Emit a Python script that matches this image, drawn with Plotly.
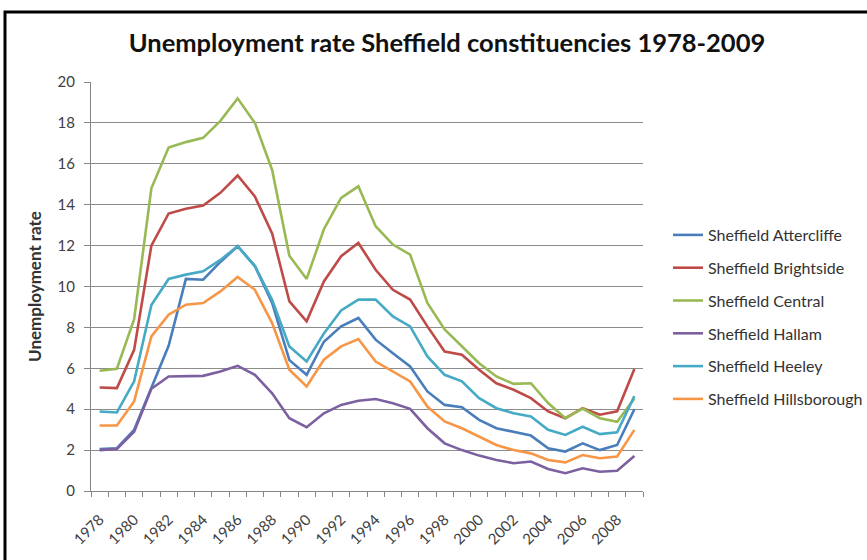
import plotly.graph_objects as go

years = list(range(1978, 2010))

attercliffe = [2.05, 2.09, 2.99, 5.0, 7.1, 10.37, 10.33, 11.2, 11.97, 11.0, 9.2, 6.4, 5.68, 7.3,
               8.05, 8.46, 7.4, 6.74, 6.09, 4.87, 4.21, 4.1, 3.48, 3.07, 2.9, 2.71, 2.09, 1.93,
               2.33, 2.0, 2.25, 4.0]
brightside = [5.06, 5.03, 6.9, 12.0, 13.57, 13.8, 13.96, 14.58, 15.43, 14.4, 12.6, 9.27, 8.3, 10.25,
              11.48, 12.13, 10.82, 9.84, 9.36, 8.05, 6.82, 6.66, 5.93, 5.27, 4.95, 4.54, 3.89, 3.56,
              4.05, 3.73, 3.9, 5.97]
central = [5.88, 5.98, 8.4, 14.8, 16.8, 17.06, 17.27, 18.1, 19.2, 18.0, 15.7, 11.5, 10.37, 12.8,
           14.33, 14.9, 12.95, 12.05, 11.56, 9.2, 7.9, 7.07, 6.25, 5.6, 5.24, 5.27, 4.3, 3.56,
           4.03, 3.56, 3.38, 4.52]
hallam = [2.0, 2.06, 2.9, 5.0, 5.6, 5.63, 5.63, 5.84, 6.12, 5.68, 4.78, 3.56, 3.12, 3.8,
          4.21, 4.41, 4.5, 4.29, 4.02, 3.07, 2.33, 2.0, 1.73, 1.52, 1.36, 1.44, 1.08, 0.87,
          1.11, 0.94, 0.99, 1.71]
heeley = [3.89, 3.84, 5.36, 9.1, 10.37, 10.58, 10.74, 11.3, 11.97, 11.0, 9.35, 7.07, 6.33, 7.7,
          8.83, 9.36, 9.36, 8.54, 8.05, 6.58, 5.68, 5.36, 4.54, 4.05, 3.8, 3.64, 2.99, 2.74,
          3.14, 2.78, 2.87, 4.64]
hillsborough = [3.2, 3.2, 4.38, 7.56, 8.62, 9.11, 9.19, 9.76, 10.47, 9.84, 8.21, 5.93, 5.11, 6.42,
                7.07, 7.43, 6.33, 5.84, 5.36, 4.13, 3.4, 3.07, 2.66, 2.25, 2.0, 1.84, 1.52, 1.4,
                1.76, 1.6, 1.69, 2.99]

series_names = ["Sheffield Attercliffe", "Sheffield Brightside", "Sheffield Central",
                "Sheffield Hallam", "Sheffield Heeley", "Sheffield Hillsborough"]
series_values = [attercliffe, brightside, central, hallam, heeley, hillsborough]
colors = ["#4A7EBB", "#BE4B48", "#98B954", "#7D60A0", "#46AAC5", "#F79646"]

fig = go.Figure()
for name, vals, col in zip(series_names, series_values, colors):
    fig.add_trace(go.Scatter(x=years, y=vals, mode="lines", name=name,
                             legendgroup=name,
                             line=dict(color=col, width=2.6)))

W, H = 867, 560
L, R, T, B = 91, 224, 82, 69
pw, ph = W - L - R, H - T - B

def px_x(p):
    return (p - L) / pw

def px_y(p):
    return (H - B - p) / ph

fig.update_layout(
    width=W, height=H,
    margin=dict(l=L, r=R, t=T, b=B, autoexpand=False),
    paper_bgcolor="white", plot_bgcolor="white",
    font=dict(family="Lato, Arial, sans-serif", color="#404040"),
    title=dict(text="<b>Unemployment rate Sheffield constituencies 1978-2009</b>",
               xref="container", x=447 / W, xanchor="center",
               yref="container", y=1 - 43 / H, yanchor="middle",
               font=dict(size=25.5, color="#111111", family="Lato, Arial, sans-serif")),
    showlegend=True,
    legend=dict(x=px_x(668), y=px_y(218), xanchor="left", yanchor="top",
                font=dict(size=16, color="#333333"),
                tracegroupgap=9, bgcolor="rgba(0,0,0,0)"),
    xaxis=dict(range=[1977.5, 2009.5], tickmode="linear", tick0=1978, dtick=2,
               tickangle=-45, ticks="", showgrid=False, zeroline=False, automargin=False,
               showline=True, linecolor="#868686", linewidth=1, ticklabelstandoff=13,
               tickfont=dict(size=15, color="#404040"),
               minor=dict(tick0=1977.5, dtick=1, ticks="outside", ticklen=5,
                          tickcolor="#868686", showgrid=False)),
    yaxis=dict(range=[0, 20], tickmode="linear", tick0=0, dtick=2, automargin=False,
               ticks="outside", ticklen=6, tickcolor="#868686", ticklabelstandoff=6,
               showgrid=True, gridcolor="#8C8C8C", gridwidth=1,
               zeroline=False, showline=True, linecolor="#868686", linewidth=1,
               tickfont=dict(size=15, color="#404040"),
               title=dict(text="<b>Unemployment rate</b>", font=dict(size=17, color="#333333"),
                          standoff=11)),
)

fig.add_shape(type="rect", xref="paper", yref="paper",
              x0=px_x(5), x1=px_x(872), y0=px_y(565), y1=px_y(12),
              line=dict(color="black", width=3), fillcolor="rgba(0,0,0,0)", layer="above")

fig.write_html("out.html", config={"displayModeBar": False},
               post_script="document.body.style.margin='0';")
